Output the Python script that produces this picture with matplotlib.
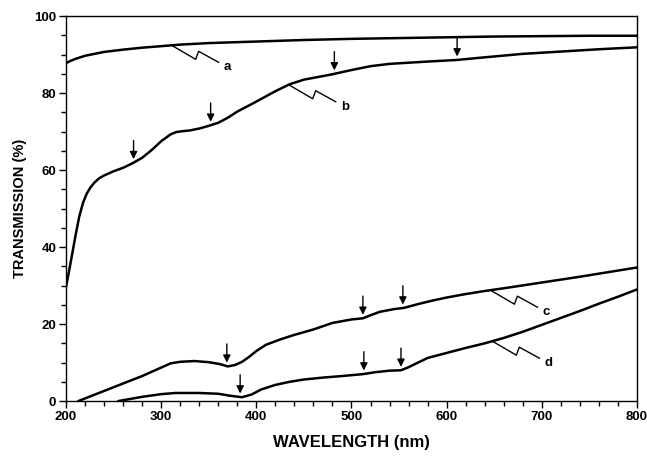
import numpy as np
import matplotlib
matplotlib.use('Agg')
import matplotlib.pyplot as plt
from matplotlib.ticker import MultipleLocator

plt.rcParams['font.family'] = ['Liberation Sans', 'DejaVu Sans']
plt.rcParams['font.weight'] = 'bold'

# curve a
a_wl = [200, 205, 210, 215, 220, 230, 240, 260, 280, 300, 320, 350, 400, 450, 500, 550, 600, 650, 700, 750, 800]
a_tr = [87.8, 88.4, 88.9, 89.3, 89.7, 90.2, 90.7, 91.3, 91.8, 92.2, 92.6, 93.0, 93.4, 93.8, 94.1, 94.3, 94.5, 94.7, 94.8, 94.9, 94.9]

# curve b
b_wl = [200, 203, 206, 210, 214, 218, 222, 226, 230, 235, 240, 250, 260, 270, 280, 290, 300, 310, 316, 322, 330,
        340, 350, 360, 370, 380, 400, 420, 435, 450, 465, 480, 500, 520, 540, 560, 580, 610, 640, 680, 720, 760, 800]
b_tr = [29.6, 33.5, 37.5, 43.0, 48.0, 51.6, 54.0, 55.6, 56.8, 57.9, 58.6, 59.7, 60.6, 61.8, 63.2, 65.2, 67.5, 69.3, 69.9, 70.1, 70.3,
        70.8, 71.5, 72.3, 73.6, 75.2, 77.8, 80.5, 82.3, 83.5, 84.2, 84.9, 86.0, 87.0, 87.6, 87.9, 88.2, 88.6, 89.3, 90.2, 90.8, 91.4, 91.9]

# curve c
c_wl = [213, 250, 280, 310, 320, 335, 350, 362, 370, 378, 385, 392, 400, 410, 425, 440, 460, 480, 500, 512, 520,
        530, 545, 555, 570, 585, 600, 620, 640, 660, 700, 740, 770, 800]
c_tr = [0.0, 3.6, 6.5, 9.8, 10.2, 10.4, 10.1, 9.6, 9.0, 9.4, 10.2, 11.4, 13.0, 14.6, 16.0, 17.2, 18.6, 20.3, 21.2, 21.5, 22.3,
        23.2, 23.9, 24.2, 25.2, 26.1, 26.9, 27.8, 28.6, 29.3, 30.8, 32.3, 33.5, 34.7]

# curve d
d_wl = [255, 280, 300, 315, 340, 360, 372, 385, 395, 405, 420, 435, 450, 470, 490, 512, 525, 540, 552, 560,
        570, 580, 600, 620, 640, 660, 680, 700, 720, 740, 760, 780, 800]
d_tr = [0.0, 1.1, 1.8, 2.1, 2.1, 1.9, 1.4, 1.0, 1.7, 3.0, 4.2, 5.0, 5.6, 6.1, 6.5, 7.0, 7.5, 7.9, 8.0, 8.8,
        10.0, 11.2, 12.5, 13.8, 15.0, 16.4, 18.0, 19.8, 21.6, 23.4, 25.3, 27.1, 29.0]

# arrow marks (nm)
b_arrows = [271, 352, 482, 611]
c_arrows = [369, 512, 554]
d_arrows = [383, 513, 552]

# leader start points (nm) and labels
labels = ['a', 'b', 'c', 'd']
label_wl = [311, 434, 646, 648]

curves = [(a_wl, a_tr), (b_wl, b_tr), (c_wl, c_tr), (d_wl, d_tr)]
arrows = [[], b_arrows, c_arrows, d_arrows]

fig = plt.figure(figsize=(6.47, 4.61), dpi=100)
ax = fig.add_axes([0.102, 0.130, 0.8825, 0.835])

for wl, tr in curves:
    ax.plot(wl, tr, color='black', lw=1.8, solid_capstyle='round', solid_joinstyle='round')

ax.set_xlim(200, 800)
ax.set_ylim(0, 100)
ax.xaxis.set_major_locator(MultipleLocator(100))
ax.xaxis.set_minor_locator(MultipleLocator(20))
ax.yaxis.set_major_locator(MultipleLocator(20))
ax.yaxis.set_minor_locator(MultipleLocator(5))
ax.tick_params(which='major', length=5, width=1, labelsize=9.5, pad=2)
ax.tick_params(which='minor', length=3.5, width=1)
for lab in ax.get_xticklabels() + ax.get_yticklabels():
    lab.set_fontweight('bold')
for s in ax.spines.values():
    s.set_linewidth(1)

ax.set_xlabel('WAVELENGTH (nm)', fontsize=12, fontweight='bold', labelpad=9)
ax.set_ylabel('TRANSMISSION (%)', fontsize=10.5, fontweight='bold', labelpad=5)

# small downward arrows above the curves
for (wl, tr), marks in zip(curves, arrows):
    for m in marks:
        yv = np.interp(m, wl, tr)
        ax.annotate('', xy=(m, yv), xycoords='data',
                    xytext=(0, 16), textcoords='offset points',
                    arrowprops=dict(arrowstyle='-|>', color='black', lw=1.0,
                                    mutation_scale=11, shrinkA=0, shrinkB=2.5))

# lightning-bolt leaders to curve labels (offsets in pixels, y down)
fig.canvas.draw()
bolt = np.array([[0, 0], [24, 14], [27, 6], [47, 17]], dtype=float)
for (wl, tr), lab, lw_ in zip(curves, labels, label_wl):
    yv = np.interp(lw_, wl, tr)
    sx, sy = ax.transData.transform((lw_, yv))
    px = sx + bolt[:, 0]
    py = sy - bolt[:, 1]
    ax.plot(px, py, color='black', lw=1.0, transform=None, clip_on=False)
    ax.text(sx + 56, sy - 22, lab, transform=None, fontsize=9.5, fontweight='bold',
            ha='center', va='center')

fig.savefig('out.png', dpi=100)
